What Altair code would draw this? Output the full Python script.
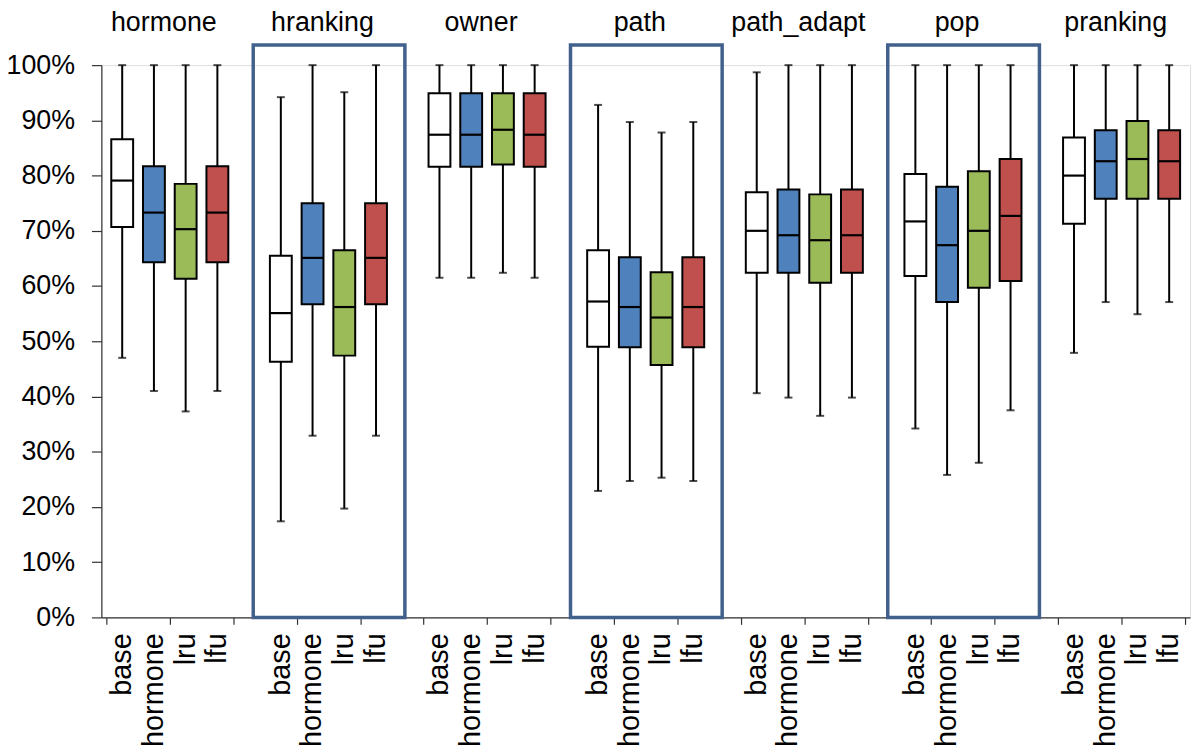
import altair as alt
import pandas as pd

groups = ["hormone", "hranking", "owner", "path", "path_adapt", "pop", "pranking"]
methods = ["base", "hormone", "lru", "lfu"]
colors = ["#FFFFFF", "#4F81BD", "#9BBB59", "#C0504D"]
highlighted = ["hranking", "path", "pop"]

# values in percent, one row per group, columns follow `methods`
low = [
    [47.0, 41.0, 37.3, 41.0],
    [17.4, 32.9, 19.7, 32.9],
    [61.5, 61.5, 62.4, 61.5],
    [22.9, 24.7, 25.3, 24.7],
    [40.6, 39.8, 36.5, 39.8],
    [34.2, 25.8, 28.0, 37.5],
    [47.9, 57.1, 54.9, 57.1],
]
q1 = [
    [70.7, 64.3, 61.3, 64.3],
    [46.3, 56.7, 47.4, 56.7],
    [81.6, 81.6, 82.0, 81.6],
    [49.0, 48.9, 45.7, 48.9],
    [62.4, 62.4, 60.6, 62.4],
    [61.8, 57.1, 59.7, 60.9],
    [71.3, 75.8, 75.8, 75.8],
]
median = [
    [79.1, 73.3, 70.3, 73.3],
    [55.1, 65.1, 56.2, 65.1],
    [87.4, 87.4, 88.3, 87.4],
    [57.2, 56.2, 54.3, 56.2],
    [70.0, 69.2, 68.3, 69.2],
    [71.7, 67.4, 70.0, 72.7],
    [80.0, 82.6, 83.0, 82.6],
]
q3 = [
    [86.6, 81.7, 78.5, 81.7],
    [65.5, 75.0, 66.5, 75.0],
    [94.9, 94.9, 94.9, 94.9],
    [66.5, 65.2, 62.5, 65.2],
    [77.0, 77.5, 76.6, 77.5],
    [80.3, 78.0, 80.8, 83.0],
    [86.9, 88.2, 89.9, 88.2],
]
high = [
    [100.0, 100.0, 100.0, 100.0],
    [94.2, 100.0, 95.1, 100.0],
    [100.0, 100.0, 100.0, 100.0],
    [92.8, 89.7, 87.8, 89.7],
    [98.7, 100.0, 100.0, 100.0],
    [100.0, 100.0, 100.0, 100.0],
    [100.0, 100.0, 100.0, 100.0],
]

SLOTS_PER_GROUP = len(methods) + 1
N_SLOTS = len(groups) * SLOTS_PER_GROUP - 1

rows = []
for gi, g in enumerate(groups):
    for mi, m in enumerate(methods):
        rows.append({
            "group": g,
            "method": m,
            "x": gi * SLOTS_PER_GROUP + mi + 0.5,
            "low": low[gi][mi] / 100,
            "q1": q1[gi][mi] / 100,
            "median": median[gi][mi] / 100,
            "q3": q3[gi][mi] / 100,
            "high": high[gi][mi] / 100,
        })
df = pd.DataFrame(rows)

titles = pd.DataFrame({
    "group": groups,
    "x": [gi * SLOTS_PER_GROUP + len(methods) / 2 for gi in range(len(groups))],
})

hl_rows = []
for g in highlighted:
    gi = groups.index(g)
    hl_rows.append({"x": gi * SLOTS_PER_GROUP - 0.37, "x2": gi * SLOTS_PER_GROUP + 4.41,
                    "y": 0.0, "y2": 1.0365})
hl = pd.DataFrame(hl_rows)

FONT = "Liberation Sans"
W, H = 1096, 556

xscale = alt.Scale(domain=[0, N_SLOTS], nice=False, zero=False)
yscale = alt.Scale(domain=[0, 1], nice=False)

xq = alt.X("x:Q", scale=xscale,
           axis=alt.Axis(values=list(range(N_SLOTS + 1)), labels=False, title=None,
                         grid=False, tickSize=7, tickColor="#333333", domainColor="#333333",
                         tickWidth=1.2, domainWidth=1.2))

base = alt.Chart(df)

whisker = base.mark_rule(color="black", strokeWidth=2).encode(
    x=xq,
    y=alt.Y("low:Q", scale=yscale,
            axis=alt.Axis(values=[i / 10 for i in range(11)], format=".0%", title=None,
                          grid=False, labelFontSize=27, labelFont=FONT, labelColor="black",
                          tickSize=10, labelPadding=17, tickColor="#333333",
                          domainColor="#333333", tickWidth=1.2, domainWidth=1.2)),
    y2="high:Q",
)

cap_low = base.mark_tick(orient="horizontal", size=8, thickness=2, color="black").encode(
    x=alt.X("x:Q", scale=xscale), y=alt.Y("low:Q", scale=yscale))
cap_high = base.mark_tick(orient="horizontal", size=8, thickness=2, color="black").encode(
    x=alt.X("x:Q", scale=xscale), y=alt.Y("high:Q", scale=yscale))

box = base.mark_bar(size=22, stroke="black", strokeWidth=2, opacity=1).encode(
    x=alt.X("x:Q", scale=xscale),
    y=alt.Y("q1:Q", scale=yscale),
    y2="q3:Q",
    fill=alt.Fill("method:N", scale=alt.Scale(domain=methods, range=colors), legend=None),
)

med = base.mark_tick(orient="horizontal", size=22, thickness=2.2, color="black",
                     opacity=1).encode(
    x=alt.X("x:Q", scale=xscale), y=alt.Y("median:Q", scale=yscale))

hlbox = alt.Chart(hl).mark_rect(fill="transparent", stroke="#41618C", strokeWidth=3.5,
                                clip=False).encode(
    x=alt.X("x:Q", scale=xscale), x2="x2:Q",
    y=alt.Y("y:Q", scale=yscale), y2="y2:Q",
)

title_text = alt.Chart(titles).mark_text(font=FONT, fontSize=27, color="black",
                                         baseline="alphabetic", align="center", dx=-6).encode(
    x=alt.X("x:Q", scale=xscale), y=alt.value(-34), text="group:N")

cat_labels = base.mark_text(font=FONT, fontSize=29, color="black", angle=270,
                            align="right", baseline="middle").encode(
    x=alt.X("x:Q", scale=xscale), y=alt.value(H + 16), text="method:N")

chart = alt.layer(hlbox, whisker, cap_low, cap_high, box, med, title_text, cat_labels).properties(
    width=W, height=H,
    autosize=alt.AutoSizeParams(type="none"),
    padding={"left": 94, "top": 55, "right": 2, "bottom": 136},
).configure_view(strokeWidth=0).configure(background="white")

chart.save("out.html", embed_options={"renderer": "svg", "actions": False})
